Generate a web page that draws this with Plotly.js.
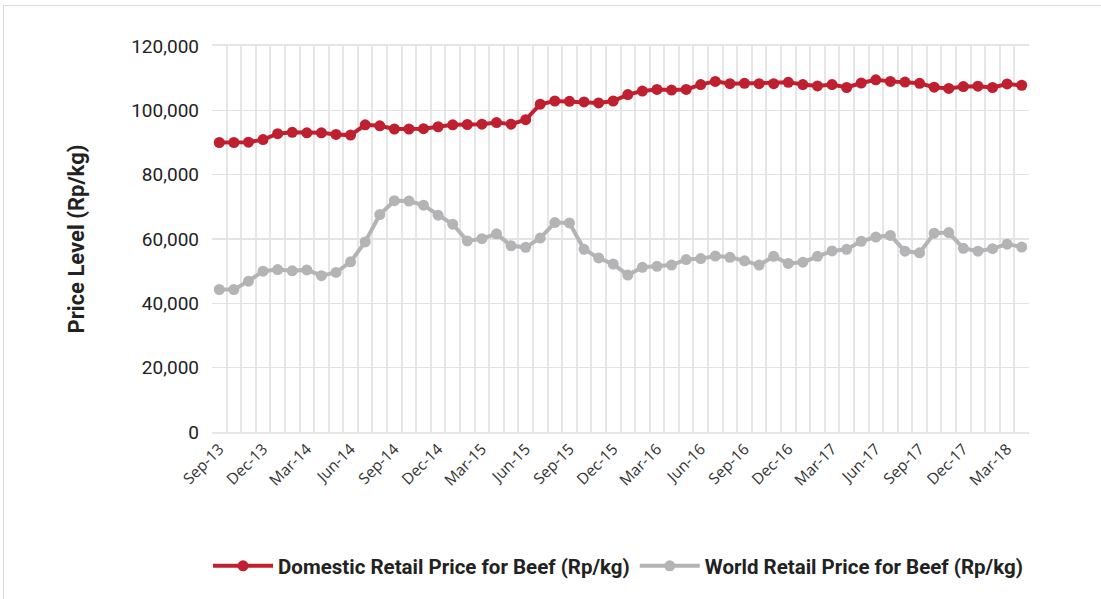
<!DOCTYPE html>
<html>
<head>
<meta charset="utf-8">
<script src="https://cdn.plot.ly/plotly-3.0.1.min.js"></script>
<style>
  html, body { margin: 0; padding: 0; background: #fff; }
  #wrap { position: relative; width: 1101px; height: 599px; }
  #chart { width: 1101px; height: 599px; }
  #frame { position: absolute; left: 3px; top: 5px; width: 1110px; height: 600px;
           border: 1.5px solid #dcdcdc; pointer-events: none; box-sizing: border-box; }
</style>
</head>
<body>
<div id="wrap">
  <div id="chart"></div>
  <div id="frame"></div>
</div>
<script>
const months = [
  "Sep-13","Oct-13","Nov-13","Dec-13",
  "Jan-14","Feb-14","Mar-14","Apr-14","May-14","Jun-14","Jul-14","Aug-14","Sep-14","Oct-14","Nov-14","Dec-14",
  "Jan-15","Feb-15","Mar-15","Apr-15","May-15","Jun-15","Jul-15","Aug-15","Sep-15","Oct-15","Nov-15","Dec-15",
  "Jan-16","Feb-16","Mar-16","Apr-16","May-16","Jun-16","Jul-16","Aug-16","Sep-16","Oct-16","Nov-16","Dec-16",
  "Jan-17","Feb-17","Mar-17","Apr-17","May-17","Jun-17","Jul-17","Aug-17","Sep-17","Oct-17","Nov-17","Dec-17",
  "Jan-18","Feb-18","Mar-18","Apr-18"
];
const domestic = [
  90000, 90000, 90100, 90900, 92750, 93150, 93000, 93000, 92500, 92300,
  95500, 95200, 94200, 94200, 94300, 94900, 95500, 95600, 95700, 96200,
  95700, 97100, 101900, 102900, 102800, 102600, 102300, 102900, 104900, 106000,
  106500, 106300, 106500, 108000, 109000, 108300, 108400, 108300, 108300, 108700,
  108000, 107600, 108000, 107100, 108500, 109500, 109000, 108800, 108400, 107200,
  106800, 107400, 107500, 107100, 108200, 107800
];
const world = [
  44300, 44300, 46900, 50000, 50500, 50100, 50400, 48600, 49600, 52900,
  59100, 67600, 71900, 71800, 70500, 67400, 64600, 59400, 60100, 61600,
  57900, 57400, 60300, 65100, 65000, 56800, 54100, 52200, 48800, 51200,
  51500, 51900, 53600, 53900, 54700, 54300, 53200, 51900, 54600, 52400,
  52800, 54600, 56300, 56800, 59300, 60600, 61100, 56200, 55700, 61800,
  62000, 57100, 56200, 57000, 58400, 57500
];
const seriesNames = ["<b>Domestic Retail Price for Beef (Rp/kg)</b>", "<b>World Retail Price for Beef (Rp/kg)</b>"];
const seriesColors = ["#c01f2f", "#b4b4b7"];
const yTicks = [0, 20000, 40000, 60000, 80000, 100000, 120000];

const tickText = months.map((m, i) => (i % 3 === 0 ? m : ""));

const traces = [
  { x: months, y: domestic, name: seriesNames[0], type: "scatter", mode: "lines+markers",
    line: { color: seriesColors[0], width: 4 }, marker: { color: seriesColors[0], size: 11 } },
  { x: months, y: world, name: seriesNames[1], type: "scatter", mode: "lines+markers",
    line: { color: seriesColors[1], width: 4 }, marker: { color: seriesColors[1], size: 11 } }
];

const layout = {
  width: 1101, height: 599,
  margin: { l: 212, r: 72, t: 46, b: 167 },
  paper_bgcolor: "#fff", plot_bgcolor: "#fff",
  showlegend: true,
  legend: { orientation: "h", x: 0.497, xanchor: "center", y: -0.347, yanchor: "middle",
            font: { family: "Roboto", size: 20.5, color: "#222" }, itemwidth: 60,
            traceorder: "normal" },
  xaxis: {
    type: "category", tickmode: "array", tickvals: months, ticktext: tickText,
    tickson: "boundaries", ticks: "", tickangle: -45,
    showgrid: true, gridcolor: "#e6e6e6", gridwidth: 2,
    showline: true, linecolor: "#e6e6e6", linewidth: 2, mirror: true,
    tickfont: { family: "Open Sans", size: 15.5, color: "#333" },
    range: [-0.5, months.length - 0.5], zeroline: false, fixedrange: true
  },
  yaxis: {
    range: [0, 120000], tickmode: "array", tickvals: yTicks, tickformat: ",",
    showgrid: true, gridcolor: "#e3e3e3", gridwidth: 1.5, zeroline: false,
    showline: false, ticks: "", ticklabelstandoff: 12,
    tickfont: { family: "Roboto", size: 19, color: "#222" },
    title: { text: "<b>Price Level (Rp/kg)</b>", font: { family: "Roboto", size: 22, color: "#222" }, standoff: 40 }
  }
};

Plotly.newPlot("chart", traces, layout, { displayModeBar: false, staticPlot: true });
</script>
</body>
</html>
